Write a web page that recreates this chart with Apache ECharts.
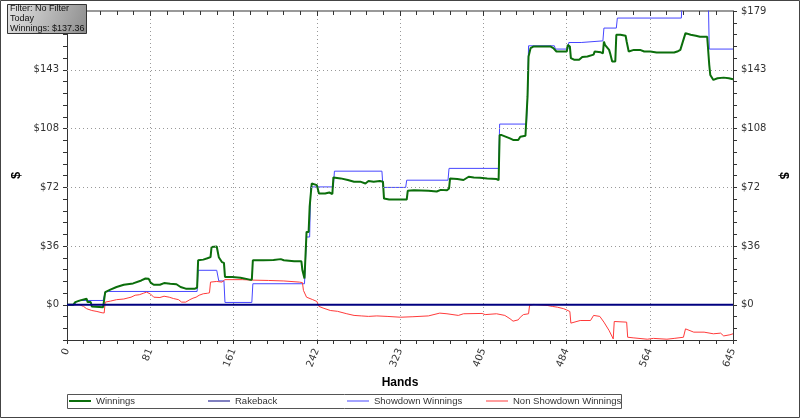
<!DOCTYPE html>
<html>
<head>
<meta charset="utf-8">
<script src="https://cdn.jsdelivr.net/npm/echarts@6/dist/echarts.min.js"></script>
<style>
html,body{margin:0;padding:0;background:#fff;}
#chart{width:800px;height:418px;}
</style>
</head>
<body>
<div id="chart"></div>
<script>
// ---- data ----
const xTickLabels = ['0','81','161','242','323','405','484','564','645'];
const yTickLabels = ['$0','$36','$72','$108','$143','$179'];
const yGridValues = [35.8, 71.6, 107.4, 143.2];
const seriesNames = ['Winnings','Rakeback','Showdown Winnings','Non Showdown Winnings'];
const filterLines = ['Filter: No Filter','Today','Winnings: $137.36'];

const winnings = [[0,0],[6,0],[8,1.6],[12,2.5],[13,3.7],[19,3.7],[20,1.6],[23,1.6],[24,-1],[35,-1.5],[37,7.7],[42,9.2],[48,10.8],[55,12.2],[64,13],[72,14.8],[76,16],[79,15.9],[81,13.5],[84,12.2],[90,12.2],[94,13.2],[100,12.8],[106,12.5],[110,10.8],[115,9.8],[124,9.8],[126,10.5],[127,27.1],[132,27.5],[136,28.3],[139,29],[140,35.2],[145,35.5],[147,29],[150,26],[152,25.5],[153,16.9],[160,16.9],[168,16.5],[177,15.3],[179,15.3],[180,27.1],[190,27.1],[200,27.3],[207,27.8],[210,27.1],[220,26.5],[227,26.5],[228,21],[230,16],[231,17],[232,44.4],[234,44.4],[235,59.6],[237,73.9],[242,72.9],[244,67.8],[250,67.8],[254,68.4],[257,67.5],[258,77.6],[265,77],[272,76],[278,75],[284,75],[289,73.9],[292,75.4],[297,75],[303,75.4],[306,75],[307,64.7],[312,64.1],[329,64.1],[330,69.4],[336,69.8],[350,69.4],[358,69],[362,70],[368,69.8],[370,70.9],[371,77],[378,76.6],[384,76],[389,78],[394,77.6],[400,77.4],[407,77],[416,76.6],[418,75.9],[419,103.4],[421,103.4],[429,101.4],[432,100.4],[437,100.4],[439,102.4],[444,103],[445,103],[446,126.8],[447,151.3],[449,156.4],[452,157.4],[468,157.4],[471,156.4],[474,154.3],[484,154.3],[485,158.4],[487,157.4],[488,150.3],[491,149.3],[496,149.3],[499,151],[504,151.3],[510,152.4],[511,154.3],[517,153.8],[519,153.2],[520,160.4],[521,158.4],[525,155.3],[526,153.2],[528,148.2],[531,148.2],[532,164.5],[536,164.5],[541,163.9],[542,160.4],[544,154.3],[549,155.3],[555,155.3],[559,154.3],[565,154.3],[571,153.7],[588,153.7],[591,154.3],[594,155.3],[596,159.4],[599,165.5],[604,164.5],[609,163.9],[613,163.3],[620,163.3],[621,162.3],[622,146.2],[623,140],[626,137],[630,138],[636,138.4],[641,138],[645,137.4]];

const rakeback = [[0,0],[645,0]];

const showdown = [[0,0],[8,0],[8,1.5],[13,2.6],[35,2.6],[37,7.7],[40,8.1],[126,8.1],[127,21],[145,21],[147,14.5],[152,14.5],[153,1.4],[179,1.4],[180,12.8],[230,12.8],[231,14],[232,41.3],[235,41.3],[236,71.8],[258,71.8],[259,81.4],[305,81.4],[306,71.5],[328,71.5],[329,75.9],[369,75.9],[370,83.1],[418,83.1],[419,110.1],[445,110.1],[446,126],[447,157.8],[472,157.8],[473,155.8],[485,155.8],[486,159.8],[498,159.8],[499,160.8],[519,160.8],[520,168.6],[532,168.6],[533,174.7],[595,174.7],[596,190],[621,190],[622,155.8],[645,155.8]];

const nonShowdown = [[0,0],[12,0],[16,-1],[19,-2.4],[24,-3.5],[29,-4.1],[34,-4.9],[36,-5],[37,1.6],[42,2.2],[48,3.1],[55,3.5],[60,4.3],[62,4.6],[66,5.8],[70,6.1],[74,7],[77,7.7],[81,6.5],[84,4.6],[90,4.4],[94,5.2],[99,4.6],[103,3.8],[108,3.1],[111,1.6],[115,1.6],[119,3.1],[122,4],[125,4.6],[128,5.8],[132,6.7],[136,7],[138,7.3],[139,13.8],[145,14.2],[150,13.8],[153,15.3],[170,15.3],[180,15],[195,14.8],[210,14.5],[225,13.8],[228,13.5],[229,8.7],[232,4.6],[238,3.1],[242,2],[244,-1],[248,-2],[255,-3.5],[262,-4],[271,-5.5],[278,-6.5],[285,-6.8],[292,-7.1],[300,-6.8],[310,-7.1],[323,-7.6],[335,-7.3],[350,-6.8],[361,-5.1],[368,-5.5],[379,-6.5],[384,-5.5],[402,-5.3],[405,-6],[416,-5.5],[424,-6.5],[429,-8.5],[432,-10],[437,-9.2],[439,-7.6],[442,-6],[447,-5.5],[448,-0.4],[452,0.2],[465,-0.4],[470,-1],[475,-1.5],[481,-2.4],[484,-3.2],[487,-4.1],[488,-11.2],[497,-9.6],[507,-9.6],[510,-6.5],[516,-7.1],[520,-10.6],[525,-15.7],[529,-20.8],[530,-10.2],[542,-10.6],[543,-19.8],[549,-20.2],[562,-21],[568,-20.5],[581,-21],[588,-20.5],[597,-19.8],[599,-14.7],[607,-16.7],[617,-16.7],[626,-17.7],[633,-17.3],[636,-19],[642,-18.3],[645,-17.7]];

// ---- scales ----
const xMax = 645;
const xStep = xMax / (xTickLabels.length - 1);
const yMajor = 35.8;
const yMinor = yMajor / 5;
const yMin = -3 * yMinor;
const yMax = 179;

const colors = ['#0b6e0b', '#000080', '#4646ff', '#ff3a3a'];
const widths = [2, 2, 1, 1];
const legendIconHeights = [2, 1, 1, 1];

const chart = echarts.init(document.getElementById('chart'), null, {renderer: 'canvas'});

function yLabel(v) {
  const k = Math.round(v / yMinor);
  return (k >= 0 && k % 5 === 0) ? yTickLabels[k / 5] : '';
}
const labelFont = {fontFamily: 'DejaVu Sans', fontSize: 10, color: '#333'};

function yAxisCfg(pos) {
  return {
    type: 'value', position: pos, min: yMin, max: yMax, interval: yMinor,
    name: '$', nameLocation: 'middle', nameGap: 41, nameRotate: 90,
    nameTextStyle: {fontFamily: 'Liberation Sans', fontWeight: 'bold', fontSize: 13, color: '#000'},
    axisLine: {show: true, onZero: false, lineStyle: {color: '#333', width: 1}},
    axisTick: {show: true, length: 4, lineStyle: {color: '#333'}},
    splitLine: {show: false},
    axisLabel: Object.assign({formatter: yLabel, margin: 8}, labelFont)
  };
}

const legendLeft0 = 69, legendStep = 139;

const option = {
  animation: false,
  backgroundColor: '#fff',
  grid: {left: 67, right: 67, top: 11, bottom: 78},
  xAxis: [{
    type: 'value', position: 'bottom', min: 0, max: xMax, interval: xStep,
    name: 'Hands', nameLocation: 'middle', nameGap: 36,
    nameTextStyle: {fontFamily: 'Liberation Sans', fontWeight: 'bold', fontSize: 12, color: '#000'},
    axisLine: {onZero: false, lineStyle: {color: '#333'}},
    axisTick: {show: true, length: 4, lineStyle: {color: '#333'}},
    minorTick: {show: true, splitNumber: 5, length: 4, lineStyle: {color: '#333'}},
    splitLine: {show: true, lineStyle: {color: '#999', type: [1, 3]}},
    axisLabel: Object.assign({rotate: 68, margin: 9,
      formatter: v => xTickLabels[Math.round(v / xStep)]}, labelFont)
  }, {
    type: 'value', position: 'top', min: 0, max: xMax, interval: xStep,
    axisLine: {show: true, onZero: false, lineStyle: {color: '#999', width: 2}},
    axisTick: {show: true, inside: true, length: 5, lineStyle: {color: '#333'}},
    minorTick: {show: true, splitNumber: 5, length: 4, lineStyle: {color: '#333'}},
    splitLine: {show: false},
    axisLabel: {show: false}
  }],
  yAxis: [yAxisCfg('left'), Object.assign(yAxisCfg('right'), {nameRotate: -90})],
  legend: seriesNames.map((n, i) => ({
    data: [n], left: legendLeft0 + i * legendStep, top: 396,
    icon: 'rect', itemWidth: 22, itemHeight: legendIconHeights[i],
    padding: 0, itemGap: 0, selectedMode: false,
    textStyle: {fontFamily: 'Liberation Sans', fontSize: 9.5, color: '#333'}
  })),
  graphic: [
    {type: 'rect', z: 0, silent: true, shape: {x: 67.5, y: 394.5, width: 554, height: 14},
      style: {fill: '#fff', stroke: '#555', lineWidth: 1}},
    {type: 'rect', z: 100, silent: true, shape: {x: 0.5, y: 0.5, width: 799, height: 417},
      style: {fill: 'none', stroke: '#444', lineWidth: 1}},
    {type: 'rect', z: 100, silent: true, shape: {x: 7.5, y: 4.5, width: 79, height: 29},
      style: {stroke: '#333', lineWidth: 1,
        fill: new echarts.graphic.LinearGradient(0, 0, 1, 1, [
          {offset: 0, color: '#e4e4e4'}, {offset: 1, color: '#8c8c8c'}])}},
    ...filterLines.map((t, i) => ({type: 'text', z: 101, silent: true, x: 10, y: 8.5 + i * 9.8,
      style: {text: t, font: '9px "Liberation Sans"', fill: '#111', verticalAlign: 'middle'}}))
  ],
  series: [
    {name: seriesNames[0], type: 'line', data: winnings, showSymbol: false, z: 4,
      lineStyle: {color: colors[0], width: widths[0]}, itemStyle: {color: colors[0]}},
    {name: seriesNames[1], type: 'line', data: rakeback, showSymbol: false, z: 5,
      lineStyle: {color: colors[1], width: widths[1]}, itemStyle: {color: colors[1]}},
    {name: seriesNames[2], type: 'line', data: showdown, showSymbol: false, z: 3,
      lineStyle: {color: colors[2], width: widths[2]}, itemStyle: {color: colors[2]},
      markLine: {silent: true, symbol: 'none', label: {show: false},
        lineStyle: {color: '#999', type: [1, 3], width: 1},
        data: yGridValues.map(v => ({yAxis: v}))}},
    {name: seriesNames[3], type: 'line', data: nonShowdown, showSymbol: false, z: 3,
      lineStyle: {color: colors[3], width: widths[3]}, itemStyle: {color: colors[3]}}
  ]
};
chart.setOption(option);
</script>
</body>
</html>
